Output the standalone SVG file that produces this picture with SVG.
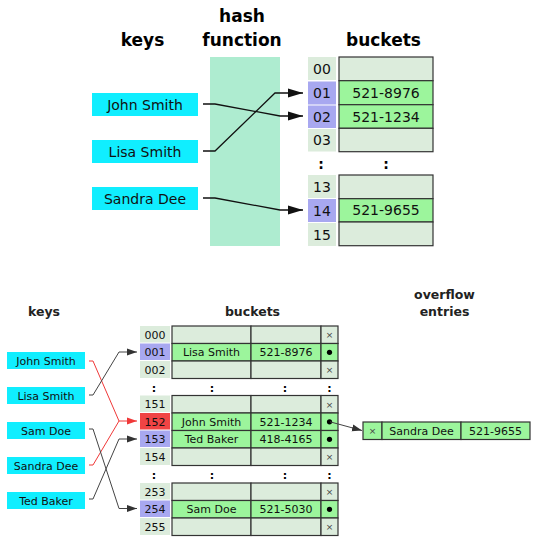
<svg xmlns="http://www.w3.org/2000/svg" width="533" height="541" viewBox="0 0 533 541">
<defs>
<style>
.h1{font-family:"DejaVu Sans",sans-serif;font-weight:bold;font-size:17px;fill:#000;text-anchor:middle}
.h2{font-family:"DejaVu Sans",sans-serif;font-weight:bold;font-size:12.5px;fill:#222;text-anchor:middle}
.t1{font-family:"DejaVu Sans",sans-serif;font-size:14px;fill:#111;text-anchor:middle}
.t2{font-family:"DejaVu Sans",sans-serif;font-size:11px;fill:#111;text-anchor:middle}
.c1{font-family:"DejaVu Sans",sans-serif;font-weight:bold;font-size:14px;fill:#000;text-anchor:middle}
.c2{font-family:"DejaVu Sans",sans-serif;font-weight:bold;font-size:11px;fill:#000;text-anchor:middle}
.px{font-family:"DejaVu Sans",sans-serif;font-size:9px;fill:#444;text-anchor:middle}
.key{fill:#10eeff}
.ie{fill:#dcecdc}
.ib{fill:#a8a8f0}
.ir{fill:#f04444}
.ce{fill:#dcecdc;stroke:#333;stroke-width:1.2}
.cg{fill:#9cf59c;stroke:#333;stroke-width:1.2}
.ln{fill:none;stroke:#111;stroke-width:1.3}
.ln2{fill:none;stroke:#444;stroke-width:1}
.lr{fill:none;stroke:#f03838;stroke-width:1}
</style>
<marker id="a1" markerUnits="userSpaceOnUse" markerWidth="16" markerHeight="10" refX="15" refY="5" orient="auto"><path d="M0,0.5 L15,5 L0,9.5 Z" fill="#111"/></marker>
<marker id="a2" markerUnits="userSpaceOnUse" markerWidth="11" markerHeight="8" refX="10" refY="4" orient="auto"><path d="M0,0.5 L10,4 L0,7.5 Z" fill="#333"/></marker>
<marker id="a3" markerUnits="userSpaceOnUse" markerWidth="11" markerHeight="8" refX="10" refY="4" orient="auto"><path d="M0,0.5 L10,4 L0,7.5 Z" fill="#f03838"/></marker>
</defs>

<!-- ===== Top diagram ===== -->
<g id="top-headings">
<text class="h1" x="142.5" y="46">keys</text>
<text class="h1" x="242" y="22">hash</text>
<text class="h1" x="242" y="46">function</text>
<text class="h1" x="383.5" y="46">buckets</text>
</g>
<g id="hash-function"><rect x="210" y="57" width="70" height="189" fill="#aeecd0"/></g>

<g id="top-key-john"><rect class="key" x="92" y="93" width="106" height="23"/><text class="t1" x="145" y="109.5">John Smith</text></g>
<g id="top-key-lisa"><rect class="key" x="92" y="140" width="106" height="23"/><text class="t1" x="145" y="156.5">Lisa Smith</text></g>
<g id="top-key-sandra"><rect class="key" x="92" y="187" width="106" height="23"/><text class="t1" x="145" y="203.5">Sandra Dee</text></g>

<g id="top-index">
<rect class="ie" x="308" y="57" width="28" height="23"/><text class="t1" x="322" y="73.5">00</text>
<rect class="ib" x="308" y="81.5" width="28" height="23"/><text class="t1" x="322" y="98">01</text>
<rect class="ib" x="308" y="105.5" width="28" height="22.5"/><text class="t1" x="322" y="121.5">02</text>
<rect class="ie" x="308" y="129" width="28" height="22.5"/><text class="t1" x="322" y="145">03</text>
<text class="c1" x="321" y="169">:</text>
<rect class="ie" x="308" y="175" width="28" height="23"/><text class="t1" x="322" y="191.5">13</text>
<rect class="ib" x="308" y="199" width="28" height="23"/><text class="t1" x="322" y="215.5">14</text>
<rect class="ie" x="308" y="223" width="28" height="23"/><text class="t1" x="322" y="239.5">15</text>
</g>
<g id="top-buckets">
<rect class="ce" x="339" y="57" width="94" height="23.7"/>
<rect class="cg" x="339" y="80.7" width="94" height="24"/><text class="t1" x="386" y="97.7">521-8976</text>
<rect class="cg" x="339" y="104.7" width="94" height="23.6"/><text class="t1" x="386" y="121.5">521-1234</text>
<rect class="ce" x="339" y="128.3" width="94" height="23.4"/>
<text class="c1" x="386" y="169">:</text>
<rect class="ce" x="339" y="175" width="94" height="23.7"/>
<rect class="cg" x="339" y="198.7" width="94" height="23.3"/><text class="t1" x="386" y="215.3">521-9655</text>
<rect class="ce" x="339" y="222" width="94" height="23.7"/>
</g>
<g id="top-connectors">
<polyline class="ln" points="203,104 215,104 280,116 303,116" marker-end="url(#a1)"/>
<polyline class="ln" points="203,151 215,151 275,93 303,93" marker-end="url(#a1)"/>
<polyline class="ln" points="203,198 215,198 280,210 303,210" marker-end="url(#a1)"/>
</g>

<!-- ===== Bottom diagram ===== -->
<g id="bottom-headings">
<text class="h2" x="44" y="316">keys</text>
<text class="h2" x="252.5" y="316">buckets</text>
<text class="h2" x="444.5" y="299">overflow</text>
<text class="h2" x="444.5" y="316">entries</text>
</g>

<g id="key-john"><rect class="key" x="7" y="352" width="78" height="17"/><text class="t2" x="46" y="364.5">John Smith</text></g>
<g id="key-lisa"><rect class="key" x="7" y="387" width="78" height="17"/><text class="t2" x="46" y="399.5">Lisa Smith</text></g>
<g id="key-sam"><rect class="key" x="7" y="422" width="78" height="17"/><text class="t2" x="46" y="434.5">Sam Doe</text></g>
<g id="key-sandra"><rect class="key" x="7" y="457" width="78" height="17"/><text class="t2" x="46" y="469.5">Sandra Dee</text></g>
<g id="key-ted"><rect class="key" x="7" y="492" width="78" height="17"/><text class="t2" x="46" y="504.5">Ted Baker</text></g>

<g id="bottom-index">
<rect class="ie" x="140" y="326" width="30" height="16.5"/><text class="t2" x="155" y="338.5">000</text>
<rect class="ib" x="140" y="343.5" width="30" height="16.5"/><text class="t2" x="155" y="356">001</text>
<rect class="ie" x="140" y="361" width="30" height="17"/><text class="t2" x="155" y="373.5">002</text>
<text class="c2" x="154" y="392">:</text>
<rect class="ie" x="140" y="395.5" width="30" height="16.5"/><text class="t2" x="155" y="408">151</text>
<rect class="ir" x="140" y="413" width="30" height="16.5"/><text class="t2" x="155" y="425.5">152</text>
<rect class="ib" x="140" y="430.5" width="30" height="16.5"/><text class="t2" x="155" y="443">153</text>
<rect class="ie" x="140" y="448" width="30" height="17"/><text class="t2" x="155" y="460.5">154</text>
<text class="c2" x="154" y="479">:</text>
<rect class="ie" x="140" y="483" width="30" height="16.5"/><text class="t2" x="155" y="495.5">253</text>
<rect class="ib" x="140" y="500.5" width="30" height="16.5"/><text class="t2" x="155" y="513">254</text>
<rect class="ie" x="140" y="518" width="30" height="17"/><text class="t2" x="155" y="530.5">255</text>
</g>

<g id="bottom-buckets">
<!-- group 1 -->
<rect class="ce" x="172" y="326" width="79" height="17.5"/><rect class="ce" x="251" y="326" width="70" height="17.5"/><rect class="ce" x="321" y="326" width="17" height="17.5"/><text class="px" x="329.5" y="338">×</text>
<rect class="cg" x="172" y="343.5" width="79" height="17.5"/><rect class="cg" x="251" y="343.5" width="70" height="17.5"/><rect class="cg" x="321" y="343.5" width="17" height="17.5"/>
<text class="t2" x="211.5" y="356">Lisa Smith</text><text class="t2" x="286" y="356">521-8976</text><circle cx="329.5" cy="352.3" r="2.6" fill="#000"/>
<rect class="ce" x="172" y="361" width="79" height="17.5"/><rect class="ce" x="251" y="361" width="70" height="17.5"/><rect class="ce" x="321" y="361" width="17" height="17.5"/><text class="px" x="329.5" y="373">×</text>
<text class="c2" x="212" y="392">:</text><text class="c2" x="285" y="392">:</text><text class="c2" x="329.5" y="392">:</text>
<!-- group 2 -->
<rect class="ce" x="172" y="395.5" width="79" height="17.5"/><rect class="ce" x="251" y="395.5" width="70" height="17.5"/><rect class="ce" x="321" y="395.5" width="17" height="17.5"/><text class="px" x="329.5" y="407.5">×</text>
<rect class="cg" x="172" y="413" width="79" height="17.5"/><rect class="cg" x="251" y="413" width="70" height="17.5"/><rect class="cg" x="321" y="413" width="17" height="17.5"/>
<text class="t2" x="211.5" y="425.5">John Smith</text><text class="t2" x="286" y="425.5">521-1234</text><circle cx="329.5" cy="421.8" r="2.6" fill="#000"/>
<rect class="cg" x="172" y="430.5" width="79" height="17.5"/><rect class="cg" x="251" y="430.5" width="70" height="17.5"/><rect class="cg" x="321" y="430.5" width="17" height="17.5"/>
<text class="t2" x="211.5" y="443">Ted Baker</text><text class="t2" x="286" y="443">418-4165</text><circle cx="329.5" cy="439.3" r="2.6" fill="#000"/>
<rect class="ce" x="172" y="448" width="79" height="17.5"/><rect class="ce" x="251" y="448" width="70" height="17.5"/><rect class="ce" x="321" y="448" width="17" height="17.5"/><text class="px" x="329.5" y="460">×</text>
<text class="c2" x="212" y="479">:</text><text class="c2" x="285" y="479">:</text><text class="c2" x="329.5" y="479">:</text>
<!-- group 3 -->
<rect class="ce" x="172" y="483" width="79" height="17.5"/><rect class="ce" x="251" y="483" width="70" height="17.5"/><rect class="ce" x="321" y="483" width="17" height="17.5"/><text class="px" x="329.5" y="495">×</text>
<rect class="cg" x="172" y="500.5" width="79" height="17.5"/><rect class="cg" x="251" y="500.5" width="70" height="17.5"/><rect class="cg" x="321" y="500.5" width="17" height="17.5"/>
<text class="t2" x="211.5" y="513">Sam Doe</text><text class="t2" x="286" y="513">521-5030</text><circle cx="329.5" cy="509.3" r="2.6" fill="#000"/>
<rect class="ce" x="172" y="518" width="79" height="17.5"/><rect class="ce" x="251" y="518" width="70" height="17.5"/><rect class="ce" x="321" y="518" width="17" height="17.5"/><text class="px" x="329.5" y="530">×</text>
</g>

<g id="overflow-entry">
<rect class="cg" x="363" y="422" width="19" height="17.5"/><text class="px" x="372.5" y="434">×</text>
<rect class="cg" x="382" y="422" width="79" height="17.5"/><text class="t2" x="421.5" y="434.5">Sandra Dee</text>
<rect class="cg" x="461" y="422" width="69" height="17.5"/><text class="t2" x="495.5" y="434.5">521-9655</text>
</g>

<g id="bottom-connectors">
<polyline class="lr" points="89,361 93,361 119,421 137,421" marker-end="url(#a3)"/>
<polyline class="lr" points="89,465 93,465 119,421"/>
<polyline class="ln2" points="89,395 93,395 119,352 137,352" marker-end="url(#a2)"/>
<polyline class="ln2" points="89,429 93,429 119,508.5 137,508.5" marker-end="url(#a2)"/>
<polyline class="ln2" points="89,499 93,499 119,439 137,439" marker-end="url(#a2)"/>
<line class="ln2" x1="330" y1="421.8" x2="362" y2="430.5" marker-end="url(#a2)"/>
</g>
</svg>
